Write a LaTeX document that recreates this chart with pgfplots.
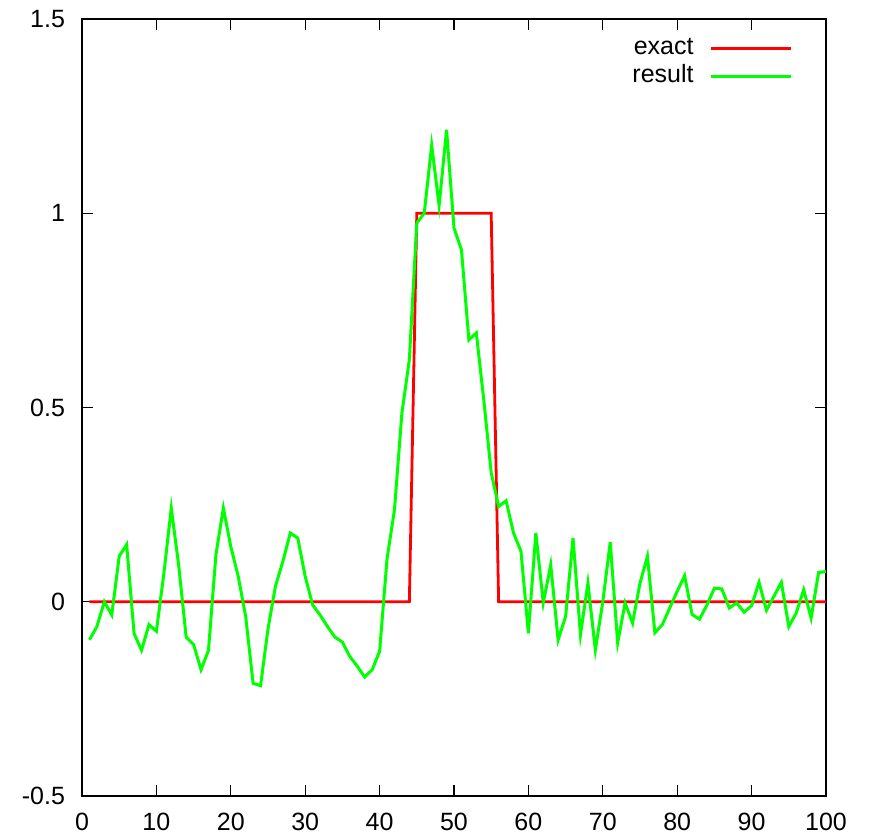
\documentclass[border=0pt]{standalone}
\usepackage{fontspec}
\setmainfont{Liberation Sans}
\usepackage{pgfplots}
\pgfplotsset{compat=1.18}
\begin{document}
\begin{tikzpicture}
\begin{axis}[
  scale only axis,
  width=372pt, height=388.5pt,
  xmin=0, xmax=100, ymin=-0.5, ymax=1.5,
  xtick={0,10,...,100},
  ytick={-0.5,0,0.5,1,1.5},
  tick align=inside,
  major tick length=5.5pt,
  axis line style={line width=0.85pt},
  every tick/.style={black, line width=0.6pt},
  /pgf/number format/assume math mode=true,
  tick label style={font=\fontsize{12.5}{14}\selectfont},
  xticklabel style={yshift=-5pt},
  yticklabel style={xshift=-5pt},
  legend plot pos=right,
  legend cell align=right,
  legend image code/.code={\draw[#1] (0pt,0pt) -- (40pt,0pt);},
  legend style={draw=none, fill=none, at={(rel axis cs:1,1)}, anchor=north east,
    xshift=-16.5pt, yshift=-7.5pt, inner sep=0pt, row sep=0pt,
    font=\fontsize{12.5}{14}\selectfont,
    nodes={inner sep=0pt, text height=10pt, text depth=4pt},
    /tikz/every odd column/.append style={column sep=8pt}},
]
\addplot[color={rgb,255:red,255;green,0;blue,0}, line width=1.4pt] coordinates {
(1,0) (44,0) (45,1) (55,1) (56,0) (100,0)
};
\addlegendentry{exact}
\addplot[color={rgb,255:red,0;green,255;blue,0}, line width=1.5pt] coordinates {
(1,-0.098) (2,-0.064) (3,0.0) (4,-0.034) (5,0.117) (6,0.147) (7,-0.082) (8,-0.125) (9,-0.059) (10,-0.076)
(11,0.072) (12,0.241) (13,0.093) (14,-0.091) (15,-0.11) (16,-0.175) (17,-0.125) (18,0.121) (19,0.241) (20,0.142)
(21,0.065) (22,-0.038) (23,-0.21) (24,-0.216) (25,-0.07) (26,0.04) (27,0.104) (28,0.177) (29,0.164) (30,0.065)
(31,-0.008) (32,-0.034) (33,-0.064) (34,-0.091) (35,-0.104) (36,-0.141) (37,-0.166) (38,-0.194) (39,-0.175) (40,-0.128)
(41,0.11) (42,0.237) (43,0.486) (44,0.623) (45,0.975) (46,1.0) (47,1.175) (48,1.02) (49,1.215) (50,0.962)
(51,0.906) (52,0.674) (53,0.692) (54,0.52) (55,0.332) (56,0.245) (57,0.26) (58,0.177) (59,0.13) (60,-0.081)
(61,0.177) (62,-0.003) (63,0.095) (64,-0.098) (65,-0.038) (66,0.164) (67,-0.085) (68,0.048) (69,-0.124) (70,0.0)
(71,0.153) (72,-0.106) (73,-0.003) (74,-0.055) (75,0.048) (76,0.117) (77,-0.08) (78,-0.059) (79,-0.016) (80,0.027)
(81,0.067) (82,-0.033) (83,-0.045) (84,-0.008) (85,0.035) (86,0.033) (87,-0.016) (88,-0.003) (89,-0.027) (90,-0.01)
(91,0.05) (92,-0.022) (93,0.014) (94,0.05) (95,-0.064) (96,-0.029) (97,0.031) (98,-0.042) (99,0.075) (100,0.078)
};
\addlegendentry{result}
\end{axis}
\path[use as bounding box] ([xshift=-41pt,yshift=-20.5pt]current axis.south west) rectangle ([xshift=21.5pt,yshift=9.5pt]current axis.north east);
\end{tikzpicture}
\end{document}
